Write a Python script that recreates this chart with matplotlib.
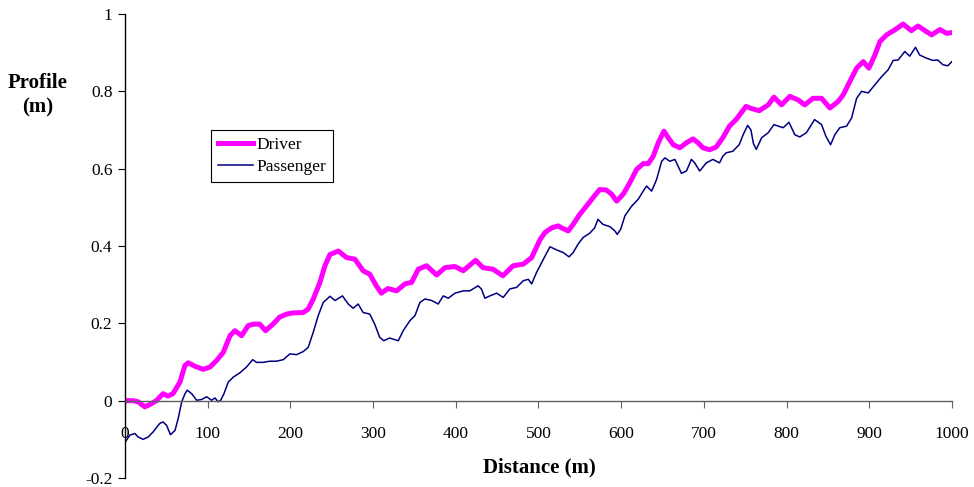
import matplotlib.pyplot as plt

plt.rcParams['font.family'] = ['Liberation Serif', 'DejaVu Serif']

# Driver wheel track profile
driver_x = [0, 10, 16, 24, 30, 38, 46, 52, 58, 66.5,
            72.5, 76.5, 84.6, 94.7, 102.8, 110.9, 118.9, 127, 133, 141,
            149, 155, 163, 170, 179, 187, 195.5, 203.5, 215.6, 221.6,
            227.7, 235.8, 241.8, 247.9, 258, 268, 278, 288, 296, 304,
            310, 318, 328.5, 338.6, 346.7, 354.7, 364.8, 376.9, 387, 399,
            409, 424, 433, 445, 457, 469.5, 481.6, 491.8, 501.8, 507.9,
            516, 524, 528, 536, 542, 550, 558, 566, 574, 582,
            588.5, 594.6, 602.5, 610.6, 618.7, 626.7, 632.8, 638.8, 644.9, 651.8,
            657, 663, 671, 679, 687, 693, 699, 707, 715, 723,
            731, 739, 745, 751, 757, 767, 777.9, 784.8, 794, 804,
            814, 822, 832, 842.4, 852.5, 862.5, 868.6, 876.7, 884.8, 892.8,
            899.6, 906.9, 913, 921, 931, 941, 951, 959, 967.4, 975.5,
            985.5, 993.6, 1000]
driver_y = [0.000, 0.000, -0.003, -0.016, -0.010, 0.000, 0.018, 0.012, 0.018, 0.048,
            0.091, 0.098, 0.089, 0.081, 0.087, 0.104, 0.125, 0.168, 0.181, 0.168,
            0.194, 0.198, 0.198, 0.181, 0.198, 0.216, 0.224, 0.227, 0.228, 0.237,
            0.263, 0.306, 0.349, 0.378, 0.387, 0.370, 0.366, 0.336, 0.327, 0.297,
            0.278, 0.290, 0.284, 0.302, 0.306, 0.340, 0.349, 0.325, 0.344, 0.347,
            0.336, 0.363, 0.344, 0.340, 0.323, 0.349, 0.353, 0.370, 0.416, 0.435,
            0.447, 0.452, 0.447, 0.439, 0.456, 0.482, 0.503, 0.525, 0.546, 0.545,
            0.534, 0.516, 0.534, 0.564, 0.598, 0.613, 0.613, 0.632, 0.667, 0.697,
            0.680, 0.662, 0.654, 0.667, 0.677, 0.667, 0.654, 0.649, 0.656, 0.680,
            0.710, 0.727, 0.744, 0.761, 0.756, 0.750, 0.765, 0.785, 0.765, 0.787,
            0.778, 0.765, 0.782, 0.782, 0.757, 0.774, 0.791, 0.826, 0.860, 0.877,
            0.860, 0.894, 0.929, 0.946, 0.959, 0.974, 0.957, 0.969, 0.957, 0.946,
            0.960, 0.950, 0.952]

# Passenger wheel track profile
passenger_x = [0, 6, 12, 16, 22, 28, 34, 42, 46, 50.4,
               55, 60.5, 64.4, 68.6, 72.6, 75.3, 80.7, 86.7, 92.7, 98.8,
               104.8, 108.8, 112.8, 115.7, 119.7, 124.9, 131, 139, 147, 154.4,
               159.2, 167, 175, 183, 191.4, 199.5, 207.6, 215.6, 221.6, 227.7,
               233.7, 239.8, 247.9, 254, 263, 270, 276, 282, 288, 296,
               302, 308, 313, 320, 330.5, 336.5, 344.6, 350.7, 356.7, 362.8,
               370.9, 378.8, 384.9, 391, 399, 409, 417, 427, 431, 435.3,
               441.3, 449.5, 457.4, 465.5, 473.6, 481.6, 487.7, 491.8, 497.8, 505.8,
               514, 522, 530, 537, 542, 548, 554, 562, 568, 572,
               578, 586.5, 592.5, 595.3, 599.4, 604.6, 612.7, 620.7, 626.7, 630.8,
               636.9, 642.9, 649, 653, 659, 665, 673, 679, 685, 689,
               695, 703, 711, 719, 723, 727, 735, 742.8, 747.6, 753,
               757, 760, 763.5, 769.9, 777.9, 784.8, 790, 796, 803, 810,
               816, 824, 834, 842.4, 847.6, 853.3, 858.5, 864.5, 872.6, 878.7,
               884.8, 890.8, 898.8, 906.9, 915, 923, 929, 935, 943, 949,
               956, 961, 969, 977, 983, 989, 995, 1000]
passenger_y = [-0.108, -0.089, -0.085, -0.094, -0.100, -0.094, -0.081, -0.059, -0.055, -0.064,
               -0.088, -0.077, -0.046, -0.003, 0.018, 0.027, 0.018, 0.001, 0.003, 0.010,
               0.001, 0.007, -0.003, 0.001, 0.018, 0.048, 0.061, 0.072, 0.087, 0.106,
               0.099, 0.099, 0.102, 0.102, 0.106, 0.121, 0.119, 0.127, 0.138, 0.177,
               0.220, 0.254, 0.270, 0.259, 0.271, 0.250, 0.239, 0.250, 0.228, 0.224,
               0.198, 0.164, 0.155, 0.162, 0.155, 0.181, 0.207, 0.220, 0.254, 0.263,
               0.259, 0.250, 0.271, 0.265, 0.278, 0.284, 0.284, 0.297, 0.289, 0.265,
               0.271, 0.278, 0.267, 0.289, 0.293, 0.310, 0.314, 0.302, 0.332, 0.365,
               0.398, 0.390, 0.383, 0.372, 0.383, 0.405, 0.422, 0.433, 0.447, 0.469,
               0.456, 0.450, 0.439, 0.430, 0.443, 0.478, 0.503, 0.521, 0.542, 0.555,
               0.542, 0.572, 0.619, 0.628, 0.619, 0.624, 0.588, 0.594, 0.624, 0.615,
               0.594, 0.615, 0.624, 0.615, 0.632, 0.641, 0.645, 0.662, 0.688, 0.712,
               0.700, 0.665, 0.650, 0.680, 0.693, 0.714, 0.710, 0.706, 0.720, 0.688,
               0.682, 0.693, 0.727, 0.714, 0.684, 0.662, 0.688, 0.706, 0.710, 0.731,
               0.782, 0.800, 0.796, 0.817, 0.838, 0.856, 0.880, 0.881, 0.903, 0.891,
               0.914, 0.894, 0.886, 0.880, 0.881, 0.869, 0.866, 0.877]

x_ticks = [0, 100, 200, 300, 400, 500, 600, 700, 800, 900, 1000]
y_ticks = [-0.2, 0, 0.2, 0.4, 0.6, 0.8, 1]
y_labels = ["-0.2", "0", "0.2", "0.4", "0.6", "0.8", "1"]

fig = plt.figure(figsize=(9.74, 4.87), dpi=100)
ax = fig.add_axes([0.1283, 0.0185, 0.849, 0.9527])

ax.plot(driver_x, driver_y, color="#ff00ff", linewidth=3.6, label="Driver")
ax.plot(passenger_x, passenger_y, color="#000080", linewidth=1.1, label="Passenger")

ax.set_xlim(0, 1000)
ax.set_ylim(-0.2, 1)
ax.set_xticks(x_ticks)
ax.set_yticks(y_ticks)
ax.set_yticklabels(y_labels)

# axes cross at the origin, like the old spreadsheet chart
ax.spines["top"].set_visible(False)
ax.spines["right"].set_visible(False)
ax.spines["bottom"].set_position(("data", 0))
ax.spines["left"].set_position(("data", 0))
ax.spines["bottom"].set_color("#606060")
ax.spines["left"].set_linewidth(1.0)
ax.spines["bottom"].set_linewidth(1.0)

ax.tick_params(axis="x", direction="out", length=5, pad=13, labelsize=12.5, color="#606060")
ax.tick_params(axis="y", direction="out", length=5, pad=4, labelsize=12.5)

fig.text(0.039, 0.805, "Profile\n(m)", ha="center", va="center",
         fontsize=15, fontweight="bold", linespacing=1.3)
fig.text(0.554, 0.041, "Distance (m)", ha="center", va="center",
         fontsize=15, fontweight="bold")

leg = ax.legend(loc="upper left", bbox_to_anchor=(211 / 974, 1 - 130 / 487),
                bbox_transform=fig.transFigure, borderaxespad=0,
                fontsize=12.5, handlelength=2.0, handletextpad=0.2,
                fancybox=False, framealpha=1, edgecolor="black",
                borderpad=0.4, labelspacing=0.35)
leg.get_frame().set_linewidth(0.8)

plt.savefig("out.png", dpi=100)
plt.close()
